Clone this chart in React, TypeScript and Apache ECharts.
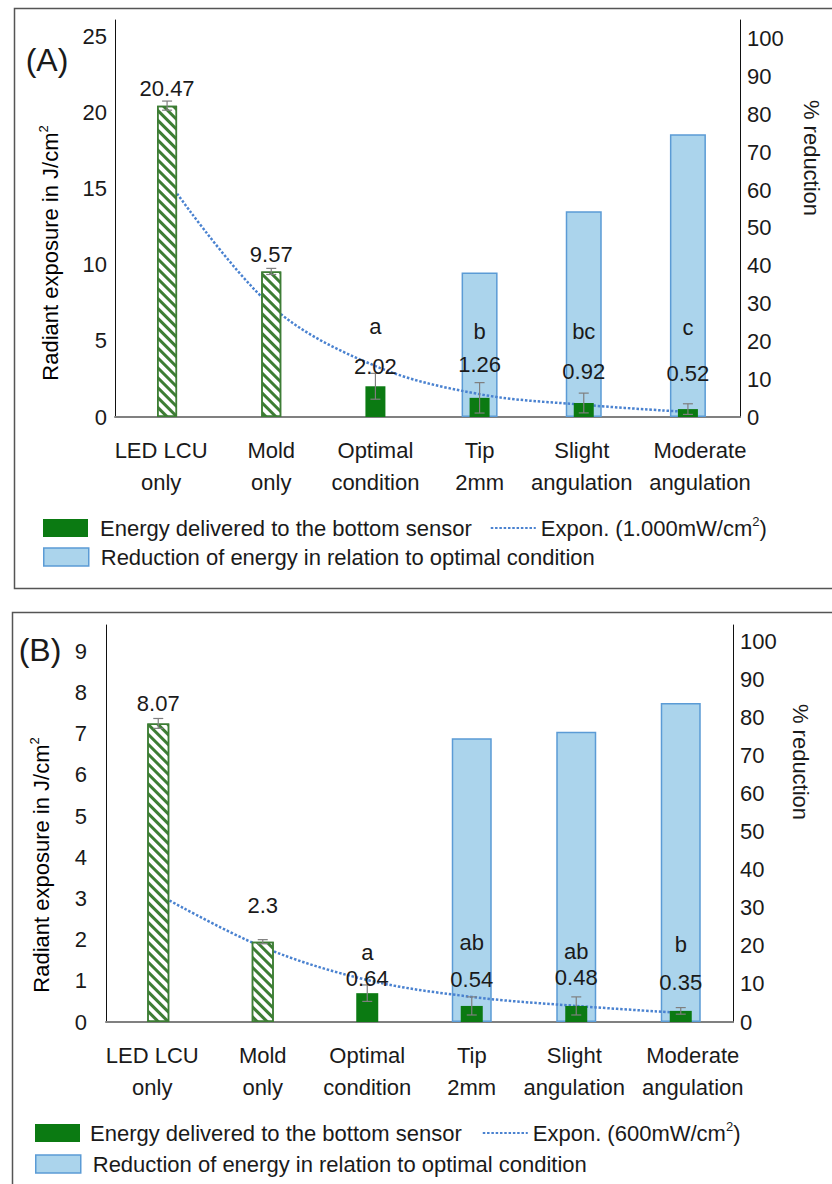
import React, { useEffect, useRef } from "react";
import * as echarts from "echarts";

// ---------- data ----------
const categories = [
  "LED LCU\nonly",
  "Mold\nonly",
  "Optimal\ncondition",
  "Tip\n2mm",
  "Slight\nangulation",
  "Moderate\nangulation",
];

const ENERGY = "Energy delivered to the bottom sensor";
const REDUCTION = "Reduction of energy in relation to optimal condition";
const EXPON_A = "Expon. (1.000mW/cm2)";
const EXPON_B = "Expon. (600mW/cm2)";

// Panel A (1.000 mW/cm2)
const energyA = [20.47, 9.57, 2.02, 1.26, 0.92, 0.52];
const errorA = [0.3, 0.2, 0.85, 1.0, 0.65, 0.35];
const valueLabelsA = ["20.47", "9.57", "2.02", "1.26", "0.92", "0.52"];
const lettersA = ["", "", "a", "b", "bc", "c"];
const reductionA = [null, null, null, 38.2, 54.4, 74.8];
const trendA = [15.6, 7.3, 3.35, 1.5, 0.8, 0.33];

// Panel B (600 mW/cm2)
const energyB = [7.25, 1.95, 0.7, 0.39, 0.39, 0.27];
const errorB = [0.12, 0.05, 0.2, 0.22, 0.22, 0.08];
const valueLabelsB = ["8.07", "2.3", "0.64", "0.54", "0.48", "0.35"];
const lettersB = ["", "", "a", "ab", "ab", "b"];
const reductionB = [null, null, null, 74.5, 76.2, 83.7];
const trendB = [3.1, 1.82, 1.02, 0.61, 0.39, 0.22];

// ---------- styles ----------
const FONT = "'Liberation Sans', Arial, sans-serif";
const TXT = "#1a1a1a";
const GREEN = "#0b7a12";
const HATCH_GREEN = "#3d7d34";
const BLUE_FILL = "#abd4ec";
const BLUE_EDGE = "#5b9bd5";
const TREND = "#4a82d0";

const hatchedFlags = [true, true, false, false, false, false];
const valueOffA = [17, 17, 20, 33, 32, 36];
const letterOffA = [0, 0, 60, 66, 72, 82];
const valueOffB = [20, 36, 15, 26, 28, 28];
const letterOffB = [0, 0, 41, 63, 54, 66];
// horizontal nudges (px) of category labels: [left pad, right pad]
const catLabelPads = [
  [0, 12],
  [0, 0],
  [0, 0],
  [0, 0],
  [0, 4],
  [24, 0],
];

const hatchStyle = {
  color: "#ffffff",
  borderColor: HATCH_GREEN,
  borderWidth: 1.5,
  decal: {
    symbol: "rect",
    symbolSize: 1,
    dashArrayX: [1, 0],
    dashArrayY: [2.5, 3.5],
    rotation: Math.PI / 4,
    color: HATCH_GREEN,
  },
};

const richSup = {
  t: { fontSize: 22, fontFamily: FONT, color: TXT, lineHeight: 26 },
  s: { fontSize: 13, fontFamily: FONT, color: TXT, verticalAlign: "top", lineHeight: 26 },
};

function makeAnnot(
  vLabels: string[],
  letters: string[],
  vOff: number[],
  lOff: number[]
) {
  return (params: any, api: any) => {
    const i = params.dataIndex;
    const v = api.value(1);
    const e = api.value(2);
    const c = api.coord([i, v]);
    const t = api.coord([i, v + e]);
    const b = api.coord([i, Math.max(v - e, 0)]);
    const hw = 5;
    const st = { stroke: "#7f7f7f", lineWidth: 1.2 };
    const textStyle = {
      fill: TXT,
      fontSize: 22,
      fontFamily: FONT,
      align: "center",
      verticalAlign: "middle",
    };
    const children: any[] = [
      { type: "line", shape: { x1: t[0], y1: t[1], x2: b[0], y2: b[1] }, style: st },
      { type: "line", shape: { x1: t[0] - hw, y1: t[1], x2: t[0] + hw, y2: t[1] }, style: st },
      { type: "line", shape: { x1: b[0] - hw, y1: b[1], x2: b[0] + hw, y2: b[1] }, style: st },
      { type: "text", x: c[0], y: c[1] - vOff[i], style: { ...textStyle, text: vLabels[i] } },
    ];
    if (letters[i]) {
      children.push({
        type: "text",
        x: c[0],
        y: c[1] - lOff[i],
        style: { ...textStyle, text: letters[i] },
      });
    }
    return { type: "group", children };
  };
}

function panelSeries(p: any) {
  return [
    {
      name: REDUCTION,
      type: "bar",
      xAxisIndex: p.xAlt,
      yAxisIndex: p.yRight,
      barWidth: p.redWidth,
      z: 1,
      itemStyle: { color: BLUE_FILL, borderColor: BLUE_EDGE, borderWidth: 1.5 },
      data: p.reduction.map((v: number | null) => (v === null ? "-" : v)),
    },
    {
      name: p.expon,
      type: "line",
      xAxisIndex: p.xMain,
      yAxisIndex: p.yLeft,
      smooth: 0.35,
      symbol: "none",
      z: 2,
      lineStyle: { color: TREND, width: 2.5, type: [2.5, 1.8] },
      itemStyle: { color: TREND },
      data: p.trend,
    },
    {
      name: ENERGY,
      type: "bar",
      xAxisIndex: p.xMain,
      yAxisIndex: p.yLeft,
      barWidth: p.energyWidth,
      z: 3,
      itemStyle: { color: GREEN },
      data: p.energy.map((v: number, i: number) =>
        hatchedFlags[i] ? { value: v, itemStyle: hatchStyle } : { value: v }
      ),
    },
    {
      name: "annot",
      type: "custom",
      xAxisIndex: p.xMain,
      yAxisIndex: p.yLeft,
      z: 4,
      silent: true,
      renderItem: makeAnnot(p.vLabels, p.letters, p.vOff, p.lOff),
      data: p.energy.map((v: number, i: number) => [i, v, p.error[i]]),
    },
  ];
}

const catRich: any = {};
catLabelPads.forEach((pad, i) => {
  catRich["c" + i] = {
    fontSize: 22,
    fontFamily: FONT,
    color: TXT,
    lineHeight: 32,
    padding: [0, pad[1], 0, pad[0]],
  };
});

function catAxis(gridIndex: number, show: boolean) {
  return {
    type: "category",
    gridIndex,
    data: categories,
    show,
    axisLine: { lineStyle: { color: "#808080", width: 2 } },
    axisTick: { show: false },
    axisLabel: {
      color: TXT,
      fontSize: 22,
      fontFamily: FONT,
      lineHeight: 32,
      margin: 17,
      interval: 0,
      formatter: (v: string, idx: number) =>
        v
          .split("\n")
          .map((line) => "{c" + idx + "|" + line + "}")
          .join("\n"),
      rich: catRich,
    },
  };
}

function valAxis(
  gridIndex: number,
  position: string,
  max: number,
  interval: number,
  margin: number
) {
  return {
    type: "value",
    gridIndex,
    position,
    min: 0,
    max,
    interval,
    splitLine: { show: false },
    axisTick: { show: false },
    axisLine: { show: true, lineStyle: { color: "#111", width: 1 } },
    axisLabel: {
      color: TXT,
      fontSize: 22,
      fontFamily: FONT,
      margin,
      formatter: (v: number) =>
        Math.abs(v / interval - Math.round(v / interval)) < 1e-6 ? String(v) : "",
    },
  };
}

function legendFormatter(name: string) {
  if (name.includes("cm2)")) {
    return "{t|" + name.replace("cm2)", "cm") + "}{s|2}{t|)}";
  }
  return "{t|" + name + "}";
}

function legendRow(data: any[], left: number, top: number, itemGap: number) {
  return {
    data,
    left,
    top,
    orient: "horizontal",
    padding: 0,
    itemWidth: 45,
    itemHeight: 18,
    itemGap,
    selectedMode: false,
    formatter: legendFormatter,
    textStyle: { color: TXT, fontSize: 22, fontFamily: FONT, rich: richSup },
  };
}

const hiddenSymbol = { color: "rgba(0,0,0,0)", borderColor: "rgba(0,0,0,0)", borderWidth: 0, opacity: 0 };

export default function App() {
  const ref = useRef<HTMLDivElement>(null);

  useEffect(() => {
    if (!ref.current) return;
    const chart = echarts.init(ref.current, null, { renderer: "svg" });

    const option: any = {
      animation: false,
      backgroundColor: "#ffffff",
      grid: [
        { left: 115, top: 20, width: 625, height: 397 },
        { left: 106, top: 625, width: 627, height: 397 },
      ],
      xAxis: [catAxis(0, true), catAxis(0, false), catAxis(1, true), catAxis(1, false)],
      yAxis: [
        valAxis(0, "left", 26.1, 5, 8),
        valAxis(0, "right", 105, 10, 7),
        valAxis(1, "left", 9.64, 1, 19),
        valAxis(1, "right", 104.2, 10, 7),
      ],
      legend: [
        legendRow(
          [
            { name: ENERGY, icon: "rect", textStyle: { padding: [0, 0, 0, 7] } },
            { name: EXPON_A, itemStyle: hiddenSymbol },
          ],
          43,
          515,
          18
        ),
        legendRow(
          [
            {
              name: REDUCTION,
              icon: "rect",
              itemStyle: { color: BLUE_FILL, borderColor: BLUE_EDGE, borderWidth: 1.5 },
              textStyle: { padding: [0, 0, 0, 7] },
            },
          ],
          43,
          546,
          18
        ),
        legendRow(
          [
            { name: ENERGY, icon: "rect", textStyle: { padding: [0, 0, 0, 5] } },
            { name: EXPON_B, itemStyle: hiddenSymbol },
          ],
          35,
          1120,
          20
        ),
        legendRow(
          [
            {
              name: REDUCTION,
              icon: "rect",
              itemStyle: { color: BLUE_FILL, borderColor: BLUE_EDGE, borderWidth: 1.5 },
              textStyle: { padding: [0, 0, 0, 7] },
            },
          ],
          35,
          1153,
          20
        ),
      ],
      series: [
        ...panelSeries({
          energy: energyA,
          error: errorA,
          reduction: reductionA,
          trend: trendA,
          vLabels: valueLabelsA,
          letters: lettersA,
          vOff: valueOffA,
          lOff: letterOffA,
          expon: EXPON_A,
          xMain: 0,
          xAlt: 1,
          yLeft: 0,
          yRight: 1,
          energyWidth: 20,
          redWidth: 36,
        }),
        ...panelSeries({
          energy: energyB,
          error: errorB,
          reduction: reductionB,
          trend: trendB,
          vLabels: valueLabelsB,
          letters: lettersB,
          vOff: valueOffB,
          lOff: letterOffB,
          expon: EXPON_B,
          xMain: 2,
          xAlt: 3,
          yLeft: 2,
          yRight: 3,
          energyWidth: 22,
          redWidth: 40,
        }),
      ],
      graphic: [
        {
          type: "rect",
          silent: true,
          z: -1,
          shape: { x: 14.5, y: 8.5, width: 830, height: 580 },
          style: { fill: "none", stroke: "#555", lineWidth: 1.5 },
        },
        {
          type: "rect",
          silent: true,
          z: -1,
          shape: { x: 12.5, y: 612.5, width: 830, height: 600 },
          style: { fill: "none", stroke: "#555", lineWidth: 1.5 },
        },
        {
          type: "text",
          x: 47,
          y: 60,
          style: { text: "(A)", fontSize: 32, fontFamily: FONT, fill: TXT, align: "center", verticalAlign: "middle" },
        },
        {
          type: "text",
          x: 40,
          y: 650,
          style: { text: "(B)", fontSize: 32, fontFamily: FONT, fill: TXT, align: "center", verticalAlign: "middle" },
        },
        {
          type: "text",
          x: 50,
          y: 253,
          rotation: Math.PI / 2,
          style: {
            text: "{t|Radiant exposure in J/cm}{s|2}",
            rich: richSup,
            align: "center",
            verticalAlign: "middle",
          },
        },
        {
          type: "text",
          x: 41,
          y: 865,
          rotation: Math.PI / 2,
          style: {
            text: "{t|Radiant exposure in J/cm}{s|2}",
            rich: richSup,
            align: "center",
            verticalAlign: "middle",
          },
        },
        {
          type: "text",
          x: 811,
          y: 158,
          rotation: -Math.PI / 2,
          style: { text: "% reduction", fontSize: 22, fontFamily: FONT, fill: TXT, align: "center", verticalAlign: "middle" },
        },
        {
          type: "text",
          x: 800,
          y: 762,
          rotation: -Math.PI / 2,
          style: { text: "% reduction", fontSize: 22, fontFamily: FONT, fill: TXT, align: "center", verticalAlign: "middle" },
        },
      ],
    };

    chart.setOption(option);
    return () => chart.dispose();
  }, []);

  return (
    <div
      ref={ref}
      style={{ position: "absolute", left: 0, top: 0, width: 832, height: 1184, background: "#fff" }}
    />
  );
}
